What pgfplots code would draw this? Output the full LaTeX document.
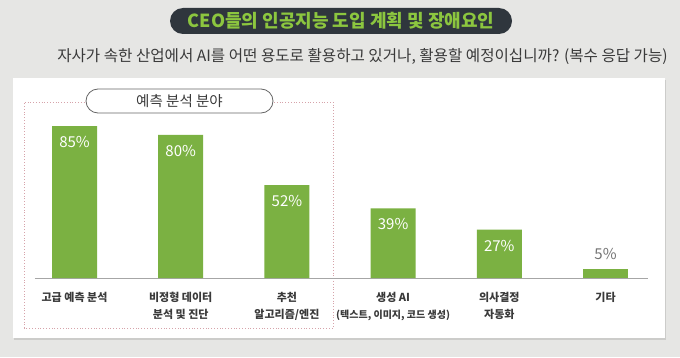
\documentclass[border=0pt]{standalone}
\usepackage{pgfplots}
\pgfplotsset{compat=1.18}
\usepackage{fontspec}
\setmainfont{Noto Sans CJK KR}
\usetikzlibrary{shadows}
\definecolor{bg}{HTML}{E6E6E4}
\definecolor{barg}{HTML}{7BB142}
\definecolor{pilld}{HTML}{2F363D}
\definecolor{titleg}{HTML}{8CC63F}
\definecolor{txt}{HTML}{3A3A3A}
\definecolor{dotc}{HTML}{D6A3AA}
\begin{document}
\begin{tikzpicture}[x=1pt,y=1pt]
\fill[bg] (0,0) rectangle (680,357);
\fill[white, drop shadow={shadow xshift=1pt, shadow yshift=-2pt, opacity=0.25}] (13,19) rectangle (665,279);
\fill[pilld, rounded corners=13pt] (170,323) rectangle (512,349);
\node[text=titleg, font=\fontsize{18}{20}\selectfont\bfseries] at (341,336) {CEO들의 인공지능 도입 계획 및 장애요인};
\node[text=txt, font=\fontsize{15.6}{17}\selectfont] at (362.5,300) {자사가 속한 산업에서 AI를 어떤 용도로 활용하고 있거나, 활용할 예정이십니까? (복수 응답 가능)};
\draw[dotc, dotted, line width=0.8pt] (24,29) rectangle (333,255);
\begin{axis}[
  at={(35pt,79pt)}, anchor=south west,
  scale only axis, width=613pt, height=178.8pt,
  xmin=-0.372, xmax=5.40, ymin=0, ymax=100,
  axis x line=bottom, axis y line=none,
  axis line style={draw=gray!70, line width=0.8pt, -},
  xtick={0,1,2,3,4,5}, major tick length=0pt,
  xticklabels={고급 예측 분석, 비정형 데이터\\분석 및 진단, 추천\\알고리즘/엔진, 생성 AI\\{\fontsize{10}{12}\selectfont(텍스트, 이미지, 코드 생성)}, 의사결정\\자동화, 기타},
  xticklabel style={align=center, text=txt, font=\fontsize{11}{17}\selectfont\bfseries, yshift=-11pt},
  ytick=\empty,
  ybar, bar width=45pt,
  clip=false,
  /pgf/number format/assume math mode=true,
]
\addplot[fill=barg, draw=none, bar shift=0pt,
  nodes near coords={\pgfmathprintnumber{\pgfplotspointmeta}\%},
  every node near coord/.append style={anchor=center, yshift=-16pt, text=white, font=\fontsize{15}{17}\selectfont}]
  coordinates {(0,85) (1,80) (2,52) (3,39) (4,27)};
\addplot[fill=barg, draw=none, bar shift=0pt,
  nodes near coords={\pgfmathprintnumber{\pgfplotspointmeta}\%},
  every node near coord/.append style={anchor=center, yshift=15pt, text=gray!90!black, font=\fontsize{15}{17}\selectfont}]
  coordinates {(5,5)};
\end{axis}
\fill[white, draw=gray!80!black, line width=0.8pt, rounded corners=12pt] (86,244) rectangle (273,268);
\node[text=txt, font=\fontsize{14.5}{16}\selectfont] at (179.5,256) {예측 분석 분야};
\end{tikzpicture}
\end{document}
